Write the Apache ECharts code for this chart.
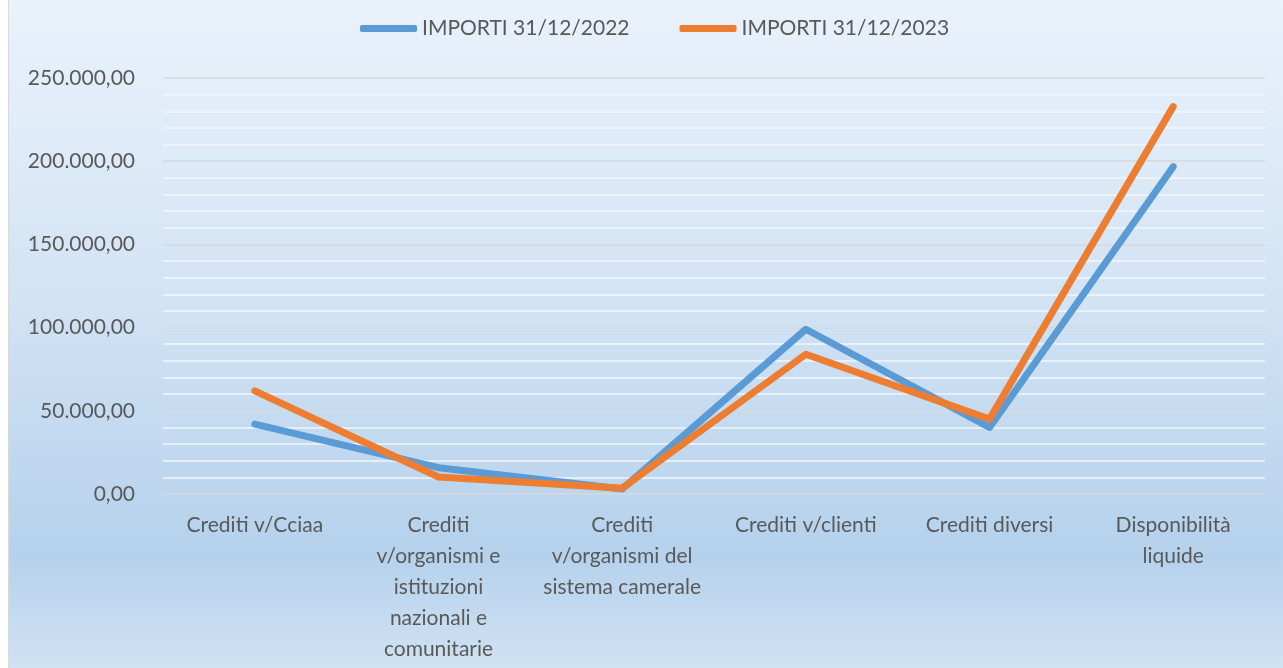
<!DOCTYPE html>
<html>
<head>
<meta charset="utf-8">
<script src="https://cdn.jsdelivr.net/npm/echarts@6/dist/echarts.min.js"></script>
<style>
html,body{margin:0;padding:0;background:#fff;width:1283px;height:668px;overflow:hidden;}
#wrap{position:absolute;left:8px;top:0;width:1274px;height:668px;border-left:1px solid #d9d9d9;}
#chart{width:1274px;height:668px;}
</style>
</head>
<body>
<div id="wrap"><div id="chart"></div></div>
<script>
const categories = [
  "Crediti v/Cciaa",
  "Crediti v/organismi e istituzioni nazionali e comunitarie",
  "Crediti v/organismi del sistema camerale",
  "Crediti v/clienti",
  "Crediti diversi",
  "Disponibilità liquide"
];
const tickLabels = [
  "Crediti v/Cciaa",
  "Crediti\nv/organismi e\nistituzioni\nnazionali e\ncomunitarie",
  "Crediti\nv/organismi del\nsistema camerale",
  "Crediti v/clienti",
  "Crediti diversi",
  "Disponibilità\nliquide"
];
const seriesNames = ["IMPORTI 31/12/2022", "IMPORTI 31/12/2023"];
const importi2022 = [42000, 15800, 3000, 99000, 40000, 196700];
const importi2023 = [62000, 10200, 3500, 84000, 45000, 232800];

function fmt(v) {
  const s = Math.round(v).toString().replace(/\B(?=(\d{3})+(?!\d))/g, ".");
  return s + ",00";
}

const chart = echarts.init(document.getElementById('chart'));
const font = 'Lato, "Open Sans", sans-serif';
chart.setOption({
  backgroundColor: new echarts.graphic.LinearGradient(0, 0, 0, 1, [
    {offset: 0, color: '#eaf2fb'},
    {offset: 0.45, color: '#d2e3f4'},
    {offset: 0.83, color: '#b5d1ec'},
    {offset: 1, color: '#d0e2f3'}
  ]),
  animation: false,
  color: ['#5b9bd5', '#ed7d31'],
  legend: {
    left: 346,
    top: 13,
    itemWidth: 57,
    itemHeight: 7,
    itemGap: 50,
    icon: 'roundRect',
    textStyle: {color: '#595959', fontSize: 21, fontFamily: font, padding: [0, 0, 0, 0]},
    data: seriesNames
  },
  grid: {left: 154, right: 18, top: 78, bottom: 174, containLabel: false},
  xAxis: {
    type: 'category',
    data: categories,
    boundaryGap: true,
    axisLine: {show: false},
    axisTick: {show: false},
    axisLabel: {
      interval: 0,
      margin: 16,
      color: '#595959',
      fontSize: 21,
      lineHeight: 31,
      fontFamily: font,
      formatter: function (v, i) { return tickLabels[i]; }
    },
    splitLine: {show: false}
  },
  yAxis: {
    type: 'value',
    min: 0,
    max: 250000,
    interval: 50000,
    axisLine: {show: false},
    axisTick: {show: false},
    axisLabel: {
      margin: 28,
      color: '#595959',
      fontSize: 21,
      fontFamily: font,
      formatter: fmt
    },
    splitLine: {show: true, lineStyle: {color: '#d4d8dc', width: 1.5}},
    minorTick: {show: false, splitNumber: 5},
    minorSplitLine: {show: true, lineStyle: {color: '#f2f6fb', width: 1.5}}
  },
  series: [
    {
      name: seriesNames[0],
      type: 'line',
      data: importi2022,
      symbol: 'none',
      showSymbol: false,
      smooth: false,
      lineStyle: {width: 7, cap: 'round', join: 'round', color: '#5b9bd5'}
    },
    {
      name: seriesNames[1],
      type: 'line',
      data: importi2023,
      symbol: 'none',
      showSymbol: false,
      smooth: false,
      lineStyle: {width: 7, cap: 'round', join: 'round', color: '#ed7d31'}
    }
  ]
});
</script>
</body>
</html>
